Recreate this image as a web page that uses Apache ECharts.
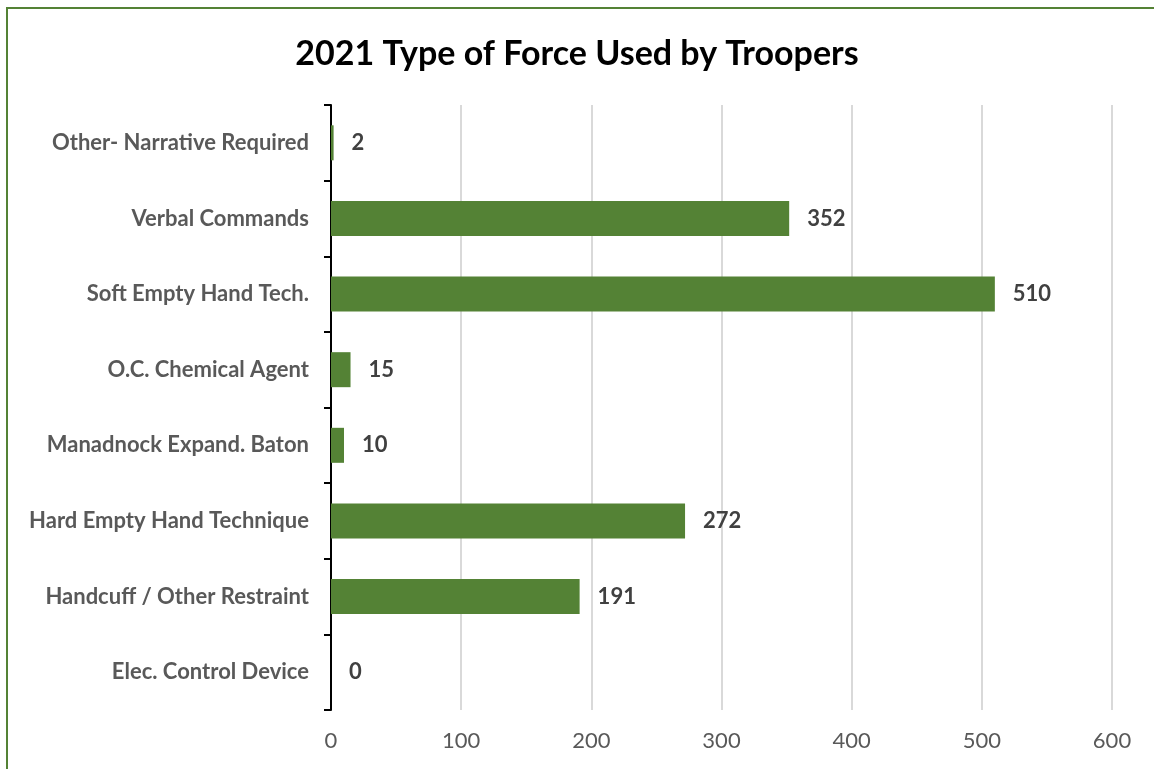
<!DOCTYPE html>
<html>
<head>
<meta charset="utf-8">
<script src="https://cdn.jsdelivr.net/npm/echarts@6/dist/echarts.min.js"></script>
<style>
  html, body { margin: 0; padding: 0; background: #fff; }
  #chart { width: 1154px; height: 769px; }
</style>
</head>
<body>
<div id="chart"></div>
<script>
// categories bottom -> top (echarts category axis draws first item at the bottom)
const categories = [
  "Elec. Control Device",
  "Handcuff / Other Restraint",
  "Hard Empty Hand Technique",
  "Manadnock Expand. Baton",
  "O.C. Chemical Agent",
  "Soft Empty Hand Tech.",
  "Verbal Commands",
  "Other- Narrative Required",
];
const values = [0, 191, 272, 10, 15, 510, 352, 2];

const chart = echarts.init(document.getElementById("chart"));

const option = {
  backgroundColor: "#fff",
  animation: false,
  textStyle: { fontFamily: "Lato" },
  title: {
    text: "2021 Type of Force Used by Troopers",
    left: "center",
    top: 32,
    textStyle: {
      fontFamily: "Lato",
      fontSize: 34,
      fontWeight: "bold",
      color: "#000",
    },
  },
  graphic: [
    {
      type: "rect",
      shape: { x: 7, y: 8, width: 1160, height: 780 },
      style: { fill: "none", stroke: "#548235", lineWidth: 2 },
      silent: true,
    },
  ],
  grid: { left: 331, right: 42, top: 105, bottom: 59, containLabel: false },
  xAxis: {
    type: "value",
    min: 0,
    max: 600,
    interval: 100,
    axisLine: { show: false },
    axisTick: { show: false },
    axisLabel: { color: "#595959", fontSize: 22, margin: 20 },
    splitLine: { lineStyle: { color: "#d9d9d9", width: 2 } },
  },
  yAxis: {
    type: "category",
    data: categories,
    axisLine: { lineStyle: { color: "#000", width: 2 } },
    axisTick: { show: true, length: 7, lineStyle: { color: "#000", width: 2 } },
    axisLabel: {
      color: "#595959",
      fontSize: 22,
      fontWeight: "bold",
      margin: 22,
    },
  },
  series: [
    {
      type: "bar",
      data: values,
      barWidth: 35,
      itemStyle: { color: "#548235" },
      label: {
        show: true,
        position: "right",
        distance: 18,
        color: "#404040",
        fontSize: 22,
        fontWeight: "bold",
      },
    },
  ],
};

chart.setOption(option);
</script>
</body>
</html>
